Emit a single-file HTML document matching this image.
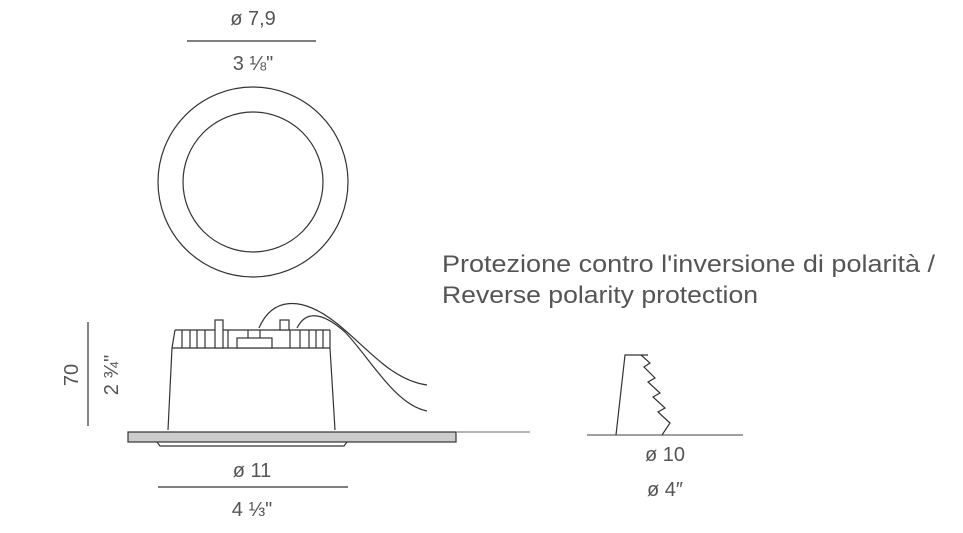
<!DOCTYPE html>
<html><head><style>
body{margin:0;background:#fff;}
svg{display:block;}
text{font-family:"Liberation Sans",sans-serif;fill:#555;}
</style></head><body>
<svg width="963" height="533" viewBox="0 0 963 533">
<g font-size="20" text-anchor="middle">
<text x="253" y="25">ø 7,9</text>
<text x="253" y="70">3 ⅛"</text>
<text x="252" y="477">ø 11</text>
<text x="252" y="516">4 ⅓"</text>
<text x="665" y="461">ø 10</text>
<text x="665" y="496">ø 4″</text>
<text transform="translate(78,375) rotate(-90)">70</text>
<text transform="translate(118,375) rotate(-90)">2 ¾"</text>
</g>
<g font-size="24" fill="#555">
<text x="442" y="272" textLength="493" lengthAdjust="spacingAndGlyphs">Protezione contro l'inversione di polarità /</text>
<text x="442" y="303" textLength="316" lengthAdjust="spacingAndGlyphs">Reverse polarity protection</text>
</g>
<g stroke="#333" fill="none" stroke-width="1.2">
<line x1="187" y1="41" x2="316" y2="41"/>
<line x1="158" y1="487" x2="348" y2="487"/>
<circle cx="253" cy="182" r="95"/>
<circle cx="253" cy="182" r="70"/>
<line x1="88" y1="322" x2="88" y2="426"/>
<path d="M259,328 C272,298 300,295 335,322 C365,345 390,380 427,385"/>
<path d="M297,328 C305,312 320,310 345,332 C370,358 395,405 427,411"/>
<path d="M175,330 L172,348 L168,430 M330,330 L330,348 L335,430"/>
<path d="M175,330 H330 M172,348 H330"/>
<path d="M182,330V348 M190,330V348 M197,330V348 M205,330V348 M228,330V348 M248,330V338 M260,330V338 M290,330V348 M300,330V348 M309,330V348 M316,330V348 M323,330V348"/>
<rect x="215" y="320" width="8" height="28" fill="#fff"/>
<rect x="237" y="338" width="35" height="10" fill="#fff"/>
<rect x="280" y="320" width="9" height="10" fill="#fff"/>
<rect x="128" y="432" width="328" height="10" fill="#ccc"/>
<line x1="456" y1="432" x2="530" y2="432" stroke="#888"/>
<path d="M157,442 L160,446 H344 L347,442"/>
<line x1="587" y1="435" x2="743" y2="435" stroke="#666"/>
<path d="M616,435 L625,355 H648 L641,355 L650,363 L644,367 L655,378 L648,382 L660,393 L653,397 L665,408 L658,412 L670,423 L662,435"/>
</g>
</svg>
</body></html>
